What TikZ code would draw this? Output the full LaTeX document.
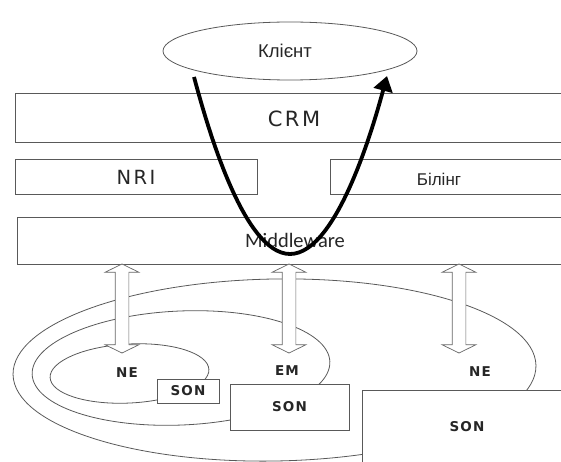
\documentclass[tikz,border=0pt]{standalone}
\usepackage{fontspec}
\usetikzlibrary{shapes.geometric,shapes.arrows,arrows.meta}
\newfontfamily\boxfont[LetterSpace=12]{DejaVu Sans}
\newfontfamily\tagfont[LetterSpace=8]{DejaVu Sans Bold}
\newfontfamily\cyrfont{Liberation Sans}
\newfontfamily\mwfont{Carlito}

\begin{document}
\begin{tikzpicture}[x=1pt, y=-1pt,
  box/.style={draw=black!65, line width=1pt, fill=white, inner sep=0pt, text=black!85},
  zone/.style={ellipse, draw=black!65, line width=0.8pt, inner sep=0pt},
  tag/.style={font=\tagfont\fontsize{13.5}{16}\selectfont, text=black!85},
  link/.style={double arrow, draw=black!60, line width=0.7pt, fill=white, rotate=90, inner xsep=0pt, inner ysep=6.5pt, minimum height=89pt, double arrow head extend=10pt, double arrow tip angle=128},
  flow/.style={line width=3.8pt, -{Triangle[length=15pt,width=19pt]}}]
\useasboundingbox (0,0) rectangle (561,462);
\clip (0,0) rectangle (561,462);
\node[zone, minimum width=523pt, minimum height=182pt, rotate=1] (outer) at (274.5,370) {};
\node[zone, minimum width=298pt, minimum height=114pt, rotate=2.5] (mid) at (181,368) {};
\node[zone, minimum width=159pt, minimum height=59pt, rotate=3] (inner) at (129.5,373.5) {};
\node[tag] (ne1) at (127,373) {NE};
\node[tag] (em) at (287,371) {EM};
\node[tag] (ne2) at (480,372) {NE};
\node[box, tag, minimum width=62pt, minimum height=24pt] (son1) at (188,391) {SON};
\node[box, tag, minimum width=119pt, minimum height=46pt] (son2) at (289.5,407) {SON};
\node[box, tag, minimum width=210pt, minimum height=74pt] (son3) at (467,427) {SON};
\node[zone, minimum width=254pt, minimum height=58pt] (client) at (290,51) {};
\node[font=\cyrfont\fontsize{18.5}{21}\selectfont, text=black!85] (clienttxt) at (285,51) {Клієнт};
\node[box, minimum width=558pt, minimum height=49pt, font=\boxfont\fontsize{21}{24}\selectfont] (crm) at (294,118.5) {CRM};
\node[box, minimum width=242pt, minimum height=35pt, font=\boxfont\fontsize{19.5}{22}\selectfont] (nri) at (136,177.5) {NRI};
\node[box, minimum width=240pt, minimum height=35pt] (bil) at (450,177.5) {};
\node[font=\cyrfont\fontsize{17}{20}\selectfont, text=black!85] (biltxt) at (439,179) {Білінг};
\node[box, minimum width=556pt, minimum height=47pt, font=\mwfont\fontsize{20.5}{24}\selectfont] (mw) at (295,240.5) {Middleware};
\node[link] (l1) at (122,308.5) {};
\node[link] (l2) at (289,308.5) {};
\node[link] (l3) at (459,308.5) {};
\coordinate (in) at (194,77);
\coordinate (out) at (387,76);
\draw[flow] (in) parabola bend (290,254) (out);
\end{tikzpicture}
\end{document}
